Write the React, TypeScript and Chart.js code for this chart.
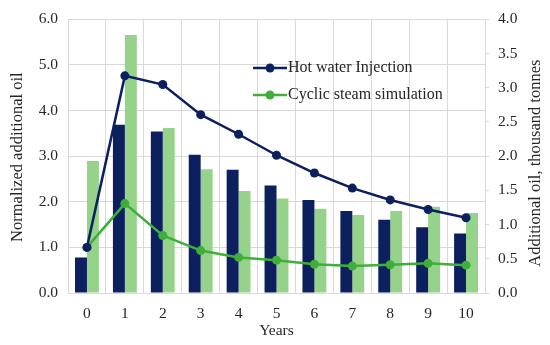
import React, { useEffect, useRef } from "react";
import { Chart, registerables } from "chart.js";

Chart.register(...registerables);

const years = ["0", "1", "2", "3", "4", "5", "6", "7", "8", "9", "10"];
// Normalized additional oil (left axis)
const hotWaterNormalized = [1.0, 4.76, 4.57, 3.91, 3.48, 3.02, 2.63, 2.3, 2.04, 1.83, 1.65];
const cyclicSteamNormalized = [1.0, 1.96, 1.26, 0.93, 0.78, 0.72, 0.63, 0.59, 0.62, 0.65, 0.61];
// Additional oil, thousand tonnes (right axis)
const hotWaterOil = [0.52, 2.46, 2.36, 2.02, 1.8, 1.57, 1.36, 1.2, 1.07, 0.96, 0.87];
const cyclicSteamOil = [1.93, 3.77, 2.41, 1.81, 1.49, 1.38, 1.23, 1.14, 1.2, 1.26, 1.17];

const seriesNames = ["Hot water Injection", "Cyclic steam simulation"];
const leftTitle = "Normalized additional oil";
const rightTitle = "Additional oil, thousand tonnes";

const NAVY = "#0c1f5e";
const GREEN_LINE = "#3fae3a";
const GREEN_BAR = "#95d38a";
const GRID = "#d9d9d9";
const TEXT = "#262626";
const FONT = "'Liberation Serif', serif";

const legendPlugin = {
  id: "insideLegend",
  afterDatasetsDraw(chart: any) {
    const ctx = chart.ctx;
    const items = [
      { label: seriesNames[0], color: NAVY, y: 68 },
      { label: seriesNames[1], color: GREEN_LINE, y: 95 },
    ];
    ctx.save();
    items.forEach((it) => {
      ctx.strokeStyle = it.color;
      ctx.lineWidth = 2.5;
      ctx.beginPath();
      ctx.moveTo(253, it.y);
      ctx.lineTo(287, it.y);
      ctx.stroke();
      ctx.fillStyle = it.color;
      ctx.beginPath();
      ctx.arc(270, it.y, 4.5, 0, Math.PI * 2);
      ctx.fill();
      ctx.fillStyle = TEXT;
      ctx.font = `16px ${FONT}`;
      ctx.textBaseline = "middle";
      ctx.textAlign = "left";
      ctx.fillText(it.label, 288, it.y);
    });
    const area = chart.chartArea;
    const drawVertical = (text: string, x: number, y: number) => {
      ctx.save();
      ctx.translate(x, y);
      ctx.rotate(-Math.PI / 2);
      ctx.font = `16.5px ${FONT}`;
      ctx.textAlign = "center";
      ctx.textBaseline = "middle";
      ctx.fillStyle = TEXT;
      ctx.fillText(text, 0, 0);
      ctx.restore();
    };
    const midY = (area.top + area.bottom) / 2;
    drawVertical(leftTitle, 18, midY + 1);
    drawVertical(rightTitle, 536, midY + 7);
    ctx.restore();
  },
};

export default function App() {
  const ref = useRef<HTMLCanvasElement>(null);
  useEffect(() => {
    const chart = new Chart(ref.current!, {
      type: "bar",
      data: {
        labels: years,
        datasets: [
          {
            type: "line",
            label: seriesNames[0],
            data: hotWaterNormalized,
            borderColor: NAVY,
            backgroundColor: NAVY,
            borderWidth: 2.5,
            pointRadius: 4.5,
            pointBackgroundColor: NAVY,
            pointBorderWidth: 0,
            yAxisID: "y",
          },
          {
            type: "line",
            label: seriesNames[1],
            data: cyclicSteamNormalized,
            borderColor: GREEN_LINE,
            backgroundColor: GREEN_LINE,
            borderWidth: 2.5,
            pointRadius: 4.5,
            pointBackgroundColor: GREEN_LINE,
            pointBorderWidth: 0,
            yAxisID: "y",
          },
          {
            type: "bar",
            label: seriesNames[0] + " oil",
            data: hotWaterOil,
            backgroundColor: NAVY,
            yAxisID: "y2",
            categoryPercentage: 0.63,
            barPercentage: 1,
          },
          {
            type: "bar",
            label: seriesNames[1] + " oil",
            data: cyclicSteamOil,
            backgroundColor: GREEN_BAR,
            yAxisID: "y2",
            categoryPercentage: 0.63,
            barPercentage: 1,
          },
        ],
      } as any,
      options: {
        animation: false,
        responsive: false,
        maintainAspectRatio: false,
        layout: { padding: { top: 17, left: 0, right: 0, bottom: 0 } },
        plugins: { legend: { display: false }, tooltip: { enabled: false } },
        scales: {
          x: {
            grid: { color: GRID, drawTicks: false, offset: true },
            border: { color: GRID },
            ticks: { color: TEXT, font: { family: FONT, size: 15.5 }, padding: 12 },
            title: {
              display: true,
              text: "Years",
              color: TEXT,
              font: { family: FONT, size: 15.5 },
              padding: { top: 0, bottom: 5 },
            },
            afterFit: (s: any) => {
              s.height = 52;
            },
          },
          y: {
            position: "left",
            min: 0,
            max: 6,
            ticks: {
              stepSize: 1,
              color: TEXT,
              font: { family: FONT, size: 15.5 },
              padding: 10,
              callback: (v: any) => Number(v).toFixed(1),
            },
            grid: { color: GRID, drawTicks: false },
            border: { color: GRID },
            title: { display: false },
            afterFit: (s: any) => {
              s.width = 68;
            },
          },
          y2: {
            position: "right",
            min: 0,
            max: 4,
            ticks: {
              stepSize: 0.5,
              color: TEXT,
              font: { family: FONT, size: 15.5 },
              padding: 9,
              callback: (v: any) => Number(v).toFixed(1),
            },
            grid: { drawOnChartArea: false, color: GRID, tickLength: 4 },
            border: { color: GRID },
            title: { display: false },
            afterFit: (s: any) => {
              s.width = 65;
            },
          },
        },
      } as any,
      plugins: [legendPlugin],
    });
    return () => chart.destroy();
  }, []);
  return (
    <div style={{ position: "fixed", left: 0, top: 0, width: 550, height: 345, background: "#fff" }}>
      <canvas ref={ref} width={550} height={345} style={{ display: "block" }} />
    </div>
  );
}
